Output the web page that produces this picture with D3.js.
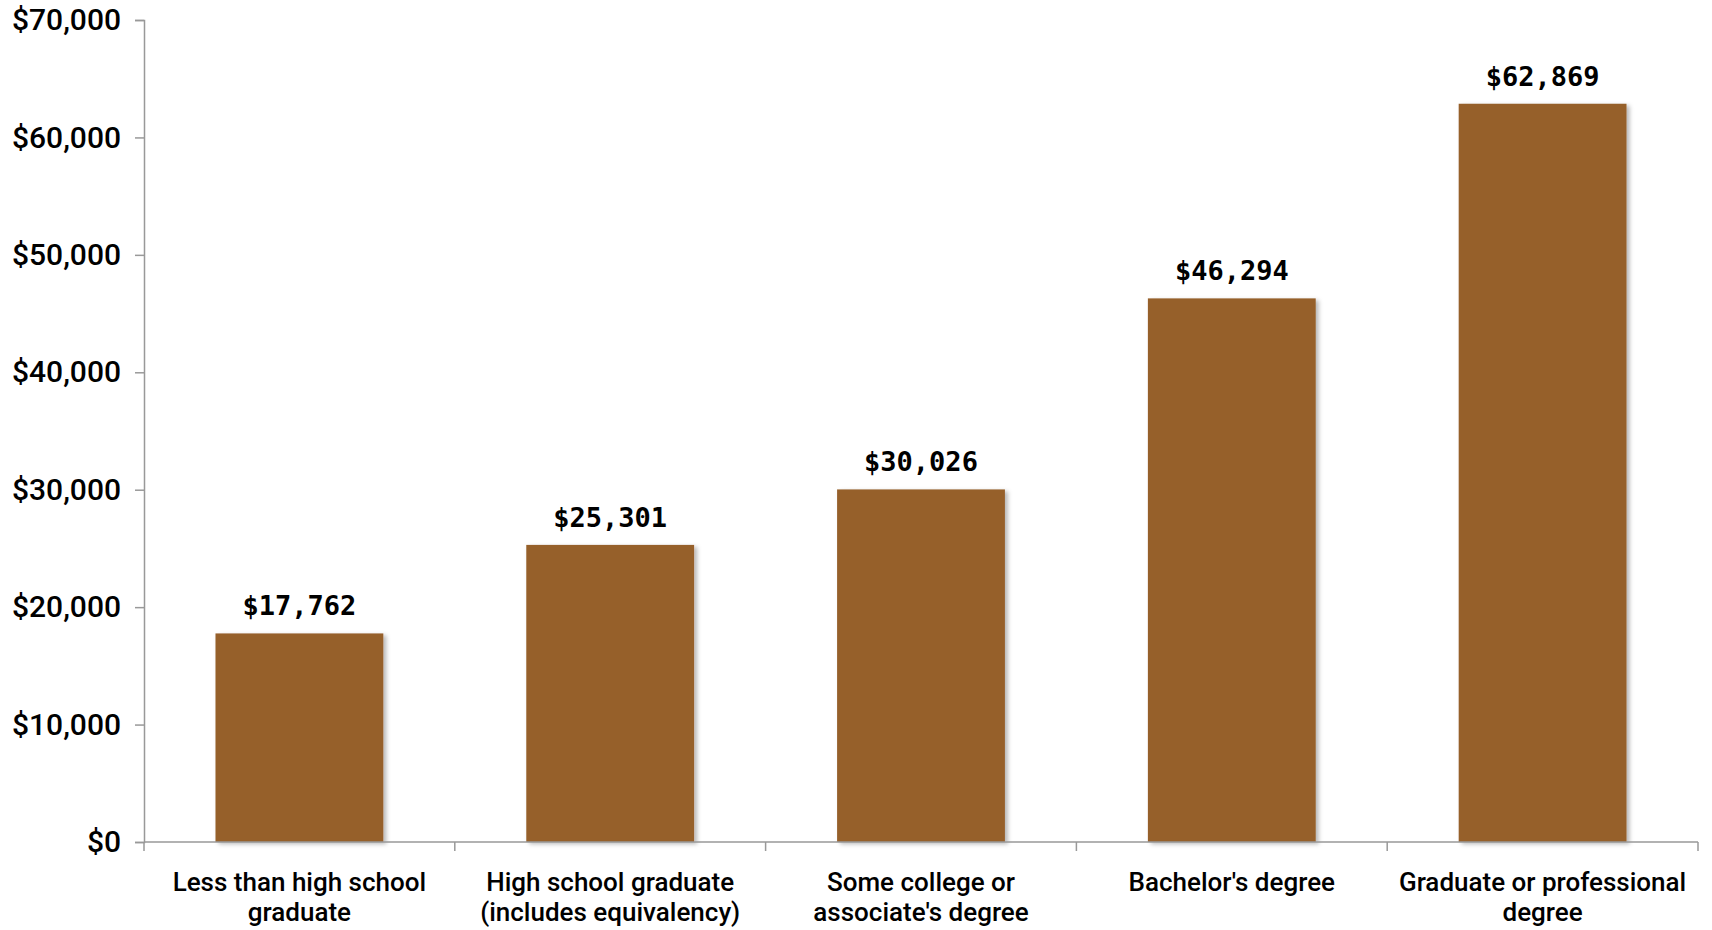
<!DOCTYPE html>
<html><head><meta charset="utf-8">
<script src="https://cdn.jsdelivr.net/npm/d3@7"></script>
<style>body{margin:0;background:#fff;}svg{display:block;}</style>
</head><body>
<svg id="chart" width="1712" height="930"></svg>
<script>
const categories = [
  ["Less than high school", "graduate"],
  ["High school graduate", "(includes equivalency)"],
  ["Some college or", "associate's degree"],
  ["Bachelor's degree"],
  ["Graduate or professional", "degree"]
];
const values = [17762, 25301, 30026, 46294, 62869];
const yTicks = [0, 10000, 20000, 30000, 40000, 50000, 60000, 70000];

(function(){
const svg = d3.select("#chart");
const mL = 144, mR = 1698, mT = 20, mB = 842;
const x = d3.scaleBand().domain(d3.range(values.length)).range([mL, mR]).paddingInner(0.46).paddingOuter(0.23);
const y = d3.scaleLinear().domain([0, 70000]).range([mB, mT]);
const fmt = d3.format(",");

const defs = svg.append("defs");
const f = defs.append("filter").attr("id","sh").attr("x","-10%").attr("y","-10%").attr("width","130%").attr("height","130%");
f.append("feDropShadow").attr("dx",3).attr("dy",2).attr("stdDeviation",2).attr("flood-color","#000").attr("flood-opacity",0.28);

// bars
svg.append("g").selectAll("rect").data(values).join("rect")
  .attr("x",(d,i)=>x(i)).attr("width",x.bandwidth())
  .attr("y",d=>y(d)).attr("height",d=>y(0)-y(d))
  .attr("fill","#96602C").attr("filter","url(#sh)");

// y axis
const ya = svg.append("g").attr("transform",`translate(${mL},0)`)
  .call(d3.axisLeft(y).tickValues(yTicks).tickSize(9).tickPadding(14).tickFormat(d=>"$"+fmt(d)));
ya.select(".domain").attr("stroke","#999").attr("stroke-width",1.5);
ya.selectAll(".tick line").attr("stroke","#999").attr("stroke-width",1.5);
ya.selectAll(".tick text").attr("font-family","Roboto, sans-serif").attr("font-weight",500).attr("font-size",30).attr("fill","#000");

// x axis
const bounds = d3.range(values.length+1).map(i=>mL + i*(mR-mL)/values.length);
const xa = svg.append("g");
xa.append("line").attr("x1",mL).attr("x2",mR).attr("y1",mB).attr("y2",mB).attr("stroke","#999").attr("stroke-width",1.5);
xa.selectAll("line.t").data(bounds).join("line").attr("class","t")
  .attr("x1",d=>d).attr("x2",d=>d).attr("y1",mB).attr("y2",mB+9).attr("stroke","#999").attr("stroke-width",1.5);

// category labels
const cl = svg.append("g").selectAll("text").data(categories).join("text")
  .attr("x",(d,i)=>x(i)+x.bandwidth()/2).attr("y",891)
  .attr("text-anchor","middle").attr("font-family","Roboto, sans-serif").attr("font-weight",500)
  .attr("font-size",26).attr("fill","#000");
cl.selectAll("tspan").data(d=>d).join("tspan")
  .attr("x",function(){return this.parentNode.getAttribute("x");})
  .attr("dy",(d,i)=>i===0?0:30).text(d=>d);

// value labels
svg.append("g").selectAll("text").data(values).join("text")
  .attr("x",(d,i)=>x(i)+x.bandwidth()/2).attr("y",d=>y(d)-18)
  .attr("text-anchor","middle").attr("font-family","DejaVu Sans Mono, monospace")
  .attr("font-weight","bold").attr("font-size",27).attr("fill","#000")
  .text(d=>"$"+fmt(d));
})();
</script>
</body></html>
